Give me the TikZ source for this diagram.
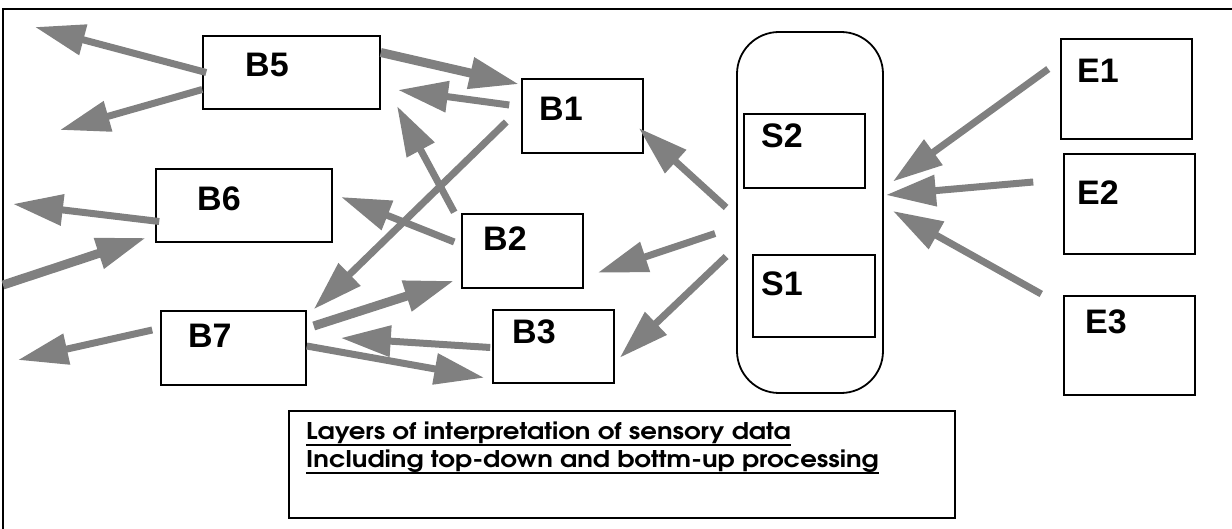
\documentclass[tikz,border=0pt]{standalone}
\usepackage{fontspec}
\setmainfont{Liberation Sans}
\newfontfamily\capfont[FakeStretch=1.13]{texgyreadventor-bold.otf}
\usetikzlibrary{arrows.meta,fit}
\definecolor{arrgray}{RGB}{128,128,128}
\begin{document}
\begin{tikzpicture}[x=1pt,y=-1pt,
  box/.style={draw=black,line width=1.5pt,inner sep=0pt},
  lbl/.style={anchor=base west,inner sep=0pt,font=\bfseries\fontsize{34}{34}\selectfont},
  caplbl/.style={anchor=base west,inner sep=0pt,font=\capfont\fontsize{23}{23}\selectfont},
  arrA/.style={draw=arrgray,line width=7pt,-{Triangle[length=50pt,width=30pt]}},
  arrB/.style={arrA,line width=9pt}]
\useasboundingbox (0,0) rectangle (1232,529);
\clip (0,0) rectangle (1232,529);
% frame
\draw[line width=2pt] (3,540) -- (3,9) -- (1240,9);
% boxes
\node[box,fit={(203,36) (380,109)}] (b5) {};
\node[box,fit={(156,169) (332,242)}] (b6) {};
\node[box,fit={(522,79) (643,153)}] (b1) {};
\node[box,fit={(462,214) (583,288)}] (b2) {};
\node[box,fit={(493,310) (614,383)}] (b3) {};
\node[box,fit={(161,311) (306,385)}] (b7) {};
\node[draw=black,line width=1.8pt,inner sep=0pt,rounded corners=42pt,fit={(737,32) (883,393)}] (pill) {};
\node[box,fit={(744,114) (865,188)}] (s2) {};
\node[box,fit={(753,255) (875,337)}] (s1) {};
\node[box,fit={(1061,39) (1192,139)}] (e1) {};
\node[box,fit={(1064,154) (1195,254)}] (e2) {};
\node[box,fit={(1064,296) (1195,395)}] (e3) {};
\node[box,line width=2pt,fit={(289,411) (955,518)}] (cap) {};
% labels
\node[lbl] (b5t) at (245,77) {B5};
\node[lbl] (b6t) at (197,211) {B6};
\node[lbl] (b1t) at (539,121) {B1};
\node[lbl] (b2t) at (483,251) {B2};
\node[lbl] (b3t) at (512,344) {B3};
\node[lbl] (b7t) at (188,348) {B7};
\node[lbl] (s2t) at (761,148) {S2};
\node[lbl] (s1t) at (761,296) {S1};
\node[lbl] (e1t) at (1077,83) {E1};
\node[lbl] (e2t) at (1077,205) {E2};
\node[lbl] (e3t) at (1085,334) {E3};
\node[caplbl] (c1) at (306,439) {Layers of interpretation of sensory data};
\node[caplbl] (c2) at (306,467) {Including top-down and bottm-up processing};
\draw[line width=2pt] ([yshift=-6pt]c1.base west) -- ([yshift=-6pt]c1.base east);
\draw[line width=2pt] ([yshift=-6pt]c2.base west) -- ([yshift=-6pt]c2.base east);
% arrow end points
\coordinate (p1) at (35,27);
\coordinate (p2) at (60,130);
\coordinate (p4) at (398,90);
\coordinate (p5) at (397,106);
\coordinate (p7) at (341,197);
\coordinate (p11) at (18,360);
\coordinate (p12) at (13,204);
\coordinate (p13) at (3,285);
% arrows
\draw[arrA] ([shift={(4,0)}]b5.west) -- (p1);
\draw[arrA] ([shift={(0,17)}]b5.west) -- (p2);
\draw[arrB] ([shift={(0,-20)}]b5.east) -- ([shift={(-2,6)}]b1.north west);
\draw[arrA] ([shift={(-12,-11)}]b1.west) -- (p4);
\draw[arrA] ([shift={(-7,-1)}]b2.north west) -- (p5);
\draw[arrA] ([shift={(-15,6)}]b1.west) -- ([shift={(7,-1)}]b7.north east);
\draw[arrA] ([shift={(-7,-9)}]b2.west) -- (p7);
\draw[arrB] ([shift={(7,-22)}]b7.east) -- ([shift={(-7,-8)}]b2.south west);
\draw[arrA] ([shift={(-2,1)}]b3.west) -- ([shift={(34,-10)}]b7.east);
\draw[arrA] ([shift={(0,-2)}]b7.east) -- ([shift={(-8,-6)}]b3.south west);
\draw[arrA] ([shift={(-8,-18)}]b7.west) -- (p11);
\draw[arrA] ([shift={(4,16)}]b6.west) -- (p12);
\draw[arrB] (p13) -- ([shift={(-9,-5)}]b6.south west);
\draw[arrA] ([shift={(-10,-5)}]pill.west) -- ([shift={(-5,12)}]b1.east);
\draw[arrA] ([shift={(-21,21)}]pill.west) -- ([shift={(14,-16)}]b2.south east);
\draw[arrA] ([shift={(-10,44)}]pill.west) -- ([shift={(5,-26)}]b3.south east);
\draw[arrA] ([shift={(-12,-20)}]e1.west) -- ([shift={(9,-31)}]pill.east);
\draw[arrA] ([shift={(-30,-22)}]e2.west) -- ([shift={(2,-17.5)}]pill.east);
\draw[arrA] ([shift={(-22,-51.5)}]e3.west) -- ([shift={(9,-1.5)}]pill.east);
\end{tikzpicture}
\end{document}
